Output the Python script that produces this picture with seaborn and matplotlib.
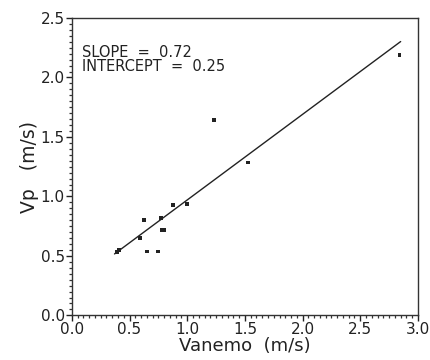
import matplotlib
matplotlib.use("Agg")
import matplotlib.pyplot as plt
import seaborn as sns
import pandas as pd
from matplotlib.ticker import MultipleLocator, FormatStrFormatter

# Data
vanemo = [0.39, 0.41, 0.59, 0.625, 0.648, 0.75, 0.775, 0.78, 0.80, 0.876, 0.997, 1.23, 1.53, 2.84]
vp =     [0.53, 0.55, 0.65, 0.805, 0.537, 0.537, 0.816, 0.716, 0.716, 0.93, 0.936, 1.64, 1.285, 2.19]
slope = 0.72
intercept = 0.25
fit_x = [0.37, 2.85]
fit_y = [slope * v + intercept for v in fit_x]

sns.set_style("ticks")
plt.rcParams['font.family'] = ['DejaVu Sans']

fig = plt.figure(figsize=(4.3, 3.6), dpi=100)
ax = fig.add_axes([0.167, 0.124, 0.805, 0.826])

df = pd.DataFrame({"x": vanemo, "y": vp})
sns.scatterplot(data=df, x="x", y="y", ax=ax, color="#222222", s=8, marker="s",
                edgecolor="none", zorder=3)
sns.lineplot(x=fit_x, y=fit_y, ax=ax, color="#222222", linewidth=1.0)

ax.set_xlim(0, 3.0)
ax.set_ylim(0, 2.5)
ax.xaxis.set_major_locator(MultipleLocator(0.5))
ax.yaxis.set_major_locator(MultipleLocator(0.5))
ax.xaxis.set_minor_locator(MultipleLocator(0.05))
ax.yaxis.set_minor_locator(MultipleLocator(0.05))
ax.xaxis.set_major_formatter(FormatStrFormatter("%.1f"))
ax.yaxis.set_major_formatter(FormatStrFormatter("%.1f"))
ax.tick_params(axis="both", which="major", direction="out", length=4, width=1.0,
               labelsize=11, colors="#222222", pad=1)
ax.tick_params(axis="both", which="minor", direction="out", length=2.5, width=0.9,
               colors="#333333")
for s in ax.spines.values():
    s.set_color("#333333")
    s.set_linewidth(1.0)

ax.set_xlabel("Vanemo  (m/s)", fontsize=13, color="#222222", labelpad=0)
ax.set_ylabel("Vp   (m/s)", fontsize=13.5, color="#222222", labelpad=1)

ax.text(0.03, 0.86, f"SLOPE  =  {slope:.2f}\nINTERCEPT  =  {intercept:.2f}",
        transform=ax.transAxes, fontsize=10.5, color="#222222", va="center",
        linespacing=0.95)

fig.savefig("out.png", dpi=100)
